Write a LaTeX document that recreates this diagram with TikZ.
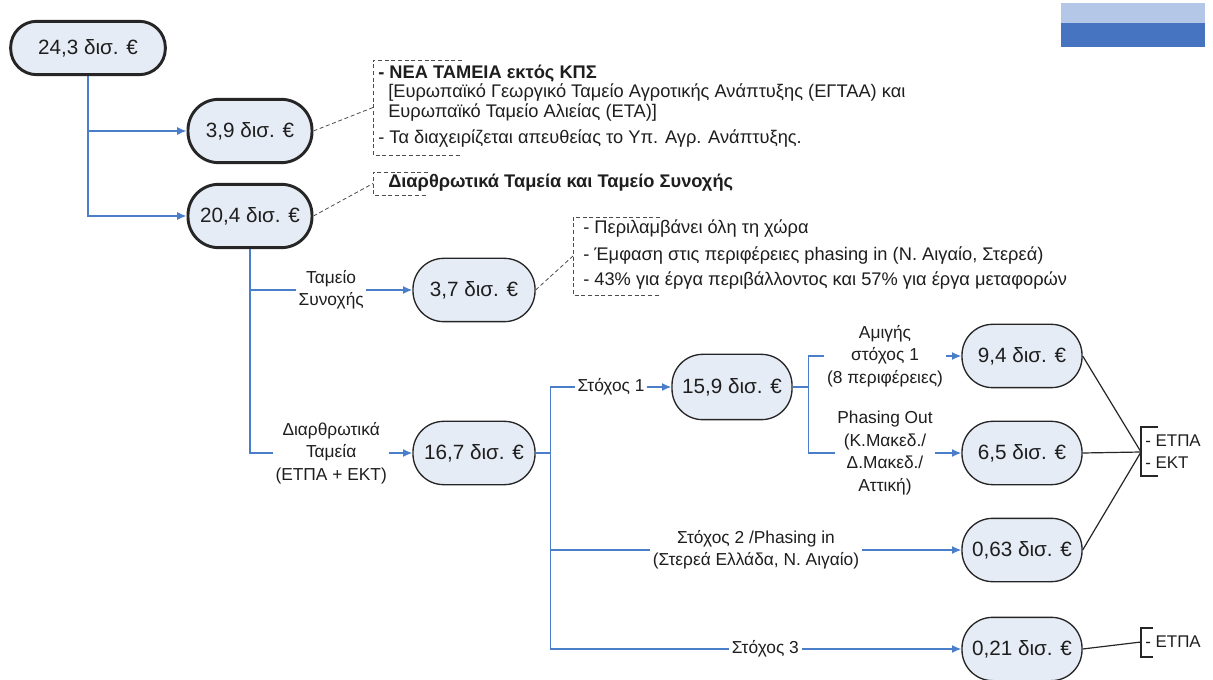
\documentclass[tikz,border=0pt]{standalone}
\usepackage{fontspec}
\setmainfont{Liberation Sans}
\usetikzlibrary{arrows.meta,calc}
\definecolor{pillfill}{HTML}{E6ECF6}
\definecolor{connblue}{HTML}{4A7EC9}
\definecolor{txt}{HTML}{1E1E1E}
\definecolor{lightbar}{HTML}{B4C7E7}
\definecolor{darkbar}{HTML}{4674C1}
\begin{document}
\begin{tikzpicture}[x=0.75pt,y=-0.75pt,
 pill/.style={draw=black!85, fill=pillfill, text=txt, line width=1pt, font=\fontsize{15.5}{18}\selectfont, inner sep=0pt, rounded corners=23pt, minimum width=90pt, minimum height=47.5pt},
 bigpill/.style={pill, line width=2.2pt},
 conn/.style={draw=connblue, line width=1pt, -{Latex[length=7pt,width=6pt]}},
 trunk/.style={draw=connblue, line width=1pt},
 lab/.style={fill=white, text=txt, font=\fontsize{13}{16.8}\selectfont, align=center, inner sep=2pt},
 notetxt/.style={text=txt, font=\fontsize{13.7}{16}\selectfont, anchor=west, inner sep=0pt},
 notebold/.style={notetxt, font=\fontsize{13.7}{16}\selectfont\bfseries},
 notebr/.style={draw=black!70, densely dashed, line width=0.6pt},
 notelink/.style={draw=black!70, densely dashed, line width=0.6pt},
 brtxt/.style={text=txt, font=\fontsize{12.7}{15}\selectfont, anchor=west, inner sep=0pt},
 blackline/.style={draw=black!85, line width=0.9pt}
]
\useasboundingbox (0,0) rectangle (1213,680);
\fill[white] (0,0) rectangle (1213,680);

% top-right bars
\fill[lightbar] (1061,3) rectangle (1205,23);
\fill[darkbar] (1061,23) rectangle (1205,47);

% main nodes
\node[bigpill, minimum width=116pt, minimum height=40pt, rounded corners=19.5pt] (A) at (88,48) {24,3 δισ. €};
\node[bigpill, minimum width=93pt] (B) at (250,131) {3,9 δισ. €};
\node[bigpill, minimum width=93pt] (C) at (250,216) {20,4 δισ. €};
\node[pill, minimum width=91.5pt] (D) at (474,290) {3,7 δισ. €};
\node[pill, minimum width=91.5pt] (E) at (474,453) {16,7 δισ. €};
\node[pill, minimum height=49pt] (F) at (732,387) {15,9 δισ. €};
\node[pill] (G) at (1022,356) {9,4 δισ. €};
\node[pill] (H) at (1022,453) {6,5 δισ. €};
\node[pill] (I) at (1022,550) {0,63 δισ. €};
\node[pill] (J) at (1022,649) {0,21 δισ. €};

% blue connectors
\draw[conn] (A.south) |- (B.west);
\draw[conn] (A.south) |- (C.west);
\draw[conn] (C.south) |- node[lab,pos=0.75]{Ταμείο\\Συνοχής} (D.west);
\draw[conn] (C.south) |- node[lab,pos=0.75]{Διαρθρωτικά\\Ταμεία\\(ΕΤΠΑ + ΕΚΤ)} (E.west);

\coordinate (t1) at ($(E.east)+(15,0)$);
\draw[trunk] (E.east) -- (t1);
\draw[conn] (t1) |- node[lab,pos=0.75]{Στόχος 1} (F.west);
\draw[conn] (t1) |- node[lab,pos=0.75]{Στόχος 2 /Phasing in\\(Στερεά Ελλάδα, Ν. Αιγαίο)} (I.west);
\draw[conn] (t1) |- node[lab,pos=0.75,xshift=7pt]{Στόχος 3} (J.west);

\coordinate (t2) at ($(F.east)+(16,0)$);
\draw[trunk] (F.east) -- (t2);
\draw[conn] (t2) |- node[lab,pos=0.75]{Αμιγής\\στόχος 1\\(8 περιφέρειες)} (G.west);
\draw[conn] (t2) |- node[lab,pos=0.75]{Phasing Out\\(Κ.Μακεδ./\\Δ.Μακεδ./\\Αττική)} (H.west);

% note 1
\draw[notebr] (462,60) -- (373,60) -- (373,155) -- (462,155);
\coordinate (n1w) at (373,107.5);
\node[notebold] (n1a) at (378,74) {- ΝΕΑ ΤΑΜΕΙΑ εκτός ΚΠΣ};
\node[notetxt] (n1b) at (388,93) {[Ευρωπαϊκό Γεωργικό Ταμείο Αγροτικής Ανάπτυξης (ΕΓΤΑΑ) και};
\node[notetxt] (n1c) at (388,113) {Ευρωπαϊκό Ταμείο Αλιείας (ΕΤΑ)]};
\node[notetxt] (n1d) at (378,139) {- Τα διαχειρίζεται απευθείας το Υπ. Αγρ. Ανάπτυξης.};
\draw[notelink] (B.east) -- (n1w);

% note 2
\draw[notebr] (428,172) -- (373,172) -- (373,195) -- (428,195);
\coordinate (n2w) at (373,183.5);
\node[notebold] (n2a) at (388,183) {Διαρθρωτικά Ταμεία και Ταμείο Συνοχής};
\draw[notelink] (C.east) -- (n2w);

% note 3
\draw[notebr] (660,217) -- (573,217) -- (573,295) -- (660,295);
\coordinate (n3w) at (573,256);
\node[notetxt] (n3a) at (583,229) {- Περιλαμβάνει όλη τη χώρα};
\node[notetxt] (n3b) at (583,256) {- Έμφαση στις περιφέρειες phasing in (Ν. Αιγαίο, Στερεά)};
\node[notetxt] (n3c) at (583,281) {- 43\% για έργα περιβάλλοντος και 57\% για έργα μεταφορών};
\draw[notelink] (D.east) -- (n3w);

% right brackets
\draw[blackline] (1158,427) -- (1141,427) -- (1141,476) -- (1158,476);
\coordinate (k1) at (1141,452);
\node[brtxt] (k1a) at (1145,441) {- ΕΤΠΑ};
\node[brtxt] (k1b) at (1145,463) {- ΕΚΤ};
\draw[blackline] (G.east) -- (k1);
\draw[blackline] (H.east) -- (k1);
\draw[blackline] (I.east) -- (k1);

\draw[blackline] (1153,628) -- (1141,628) -- (1141,657) -- (1153,657);
\coordinate (k2) at (1141,642);
\node[brtxt] (k2a) at (1145,642) {- ΕΤΠΑ};
\draw[blackline] (J.east) -- (k2);
\end{tikzpicture}
\end{document}
